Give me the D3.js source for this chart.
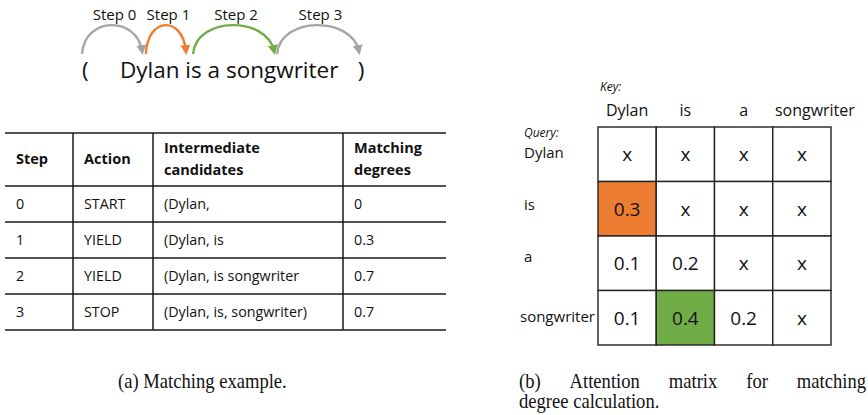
<!DOCTYPE html>
<html lang="en">
<head>
<meta charset="UTF-8">
<title>Matching example and attention matrix</title>
<script src="https://d3js.org/d3.v7.min.js"></script>
<style>
    body { margin: 0; background: #fff; }
    svg { display: block; font-family: "Open Sans", sans-serif; }
    .serif { font-family: "Liberation Serif", "Times New Roman", serif; }
</style>
</head>
<body>
<svg id="fig" width="868" height="415"></svg>
<script>
// ---- data ----
const steps = ["Step 0", "Step 1", "Step 2", "Step 3"];
// arc start / end along the sentence, in token units (0 = "(", 10 = ")")
const arcFrom = [0, 2.29, 3.98, 6.99];
const arcTo = [2.19, 3.76, 6.92, 9.96];
const arcColors = ["#a5a5a5", "#ed7d31", "#70ad47", "#a5a5a5"];
const sentence = "Dylan is a songwriter";

const tableHeader = [["Step"], ["Action"], ["Intermediate", "candidates"], ["Matching", "degrees"]];
const stepIds = ["0", "1", "2", "3"];
const actions = ["START", "YIELD", "YIELD", "STOP"];
const candidates = ["(Dylan,", "(Dylan, is", "(Dylan, is songwriter", "(Dylan, is, songwriter)"];
const degrees = ["0", "0.3", "0.7", "0.7"];

const keys = ["Dylan", "is", "a", "songwriter"];
const queries = ["Dylan", "is", "a", "songwriter"];
const attention = [
    ["x", "x", "x", "x"],
    ["0.3", "x", "x", "x"],
    ["0.1", "0.2", "x", "x"],
    ["0.1", "0.4", "0.2", "x"]
];
// [query index, key index, colour]
const highlights = [[1, 0, "#ed7d31"], [3, 1, "#70ad47"]];

const captionA = "(a) Matching example.";
const captionB = ["(b) Attention matrix for matching", "degree calculation."];

const svg = d3.select("#fig");

// ---- (a) top: steps over the sentence ----
const tx = d3.scaleLinear().domain([0, 10]).range([82, 361]);
const arcBase = 54, arcTop = 16;

const defs = svg.append("defs");
arcColors.forEach((c, i) => {
    defs.append("marker")
        .attr("id", "arrow" + i)
        .attr("viewBox", "0 0 10 10")
        .attr("refX", 6).attr("refY", 5)
        .attr("markerWidth", 10).attr("markerHeight", 10)
        .attr("markerUnits", "userSpaceOnUse")
        .attr("orient", "auto")
        .append("path")
        .attr("d", "M0,0 L10,5 L0,10 z")
        .attr("fill", c);
});

const arcs = svg.append("g");
steps.forEach((s, i) => {
    const x0 = tx(arcFrom[i]), x1 = tx(arcTo[i]);
    const w = x1 - x0;
    arcs.append("path")
        .attr("d", `M${x0},${arcBase} C${x0 + w * 0.04},${arcTop} ${x1 - w * 0.1},${arcTop} ${x1 - 1},${arcBase - 3}`)
        .attr("fill", "none")
        .attr("stroke", arcColors[i])
        .attr("stroke-width", 2.4)
        .attr("marker-end", `url(#arrow${i})`);
    arcs.append("text")
        .attr("x", (x0 + x1) / 2 + 2)
        .attr("y", 20)
        .attr("text-anchor", "middle")
        .attr("font-size", 15)
        .attr("fill", "#111")
        .text(s);
});

const sent = svg.append("g").attr("font-size", 22.5).attr("fill", "#111");
sent.append("text").attr("x", tx(0)).attr("y", 78).text("(");
sent.append("text").attr("x", tx(1.36)).attr("y", 78).text(sentence);
sent.append("text").attr("x", tx(10)).attr("y", 78).attr("text-anchor", "middle").text(")");

// ---- (a) table ----
const colEdges = [5, 73, 153, 343, 446];
const tableTop = 133;
const rowY = d3.scaleBand().domain(stepIds).range([186, 330]);
const lineColor = "#1a1a1a";

const table = svg.append("g");
[tableTop].concat(stepIds.map(d => rowY(d)), [rowY.range()[1]]).forEach(y => {
    table.append("line")
        .attr("x1", colEdges[0]).attr("x2", colEdges[4])
        .attr("y1", y).attr("y2", y)
        .attr("stroke", lineColor).attr("stroke-width", 1.5);
});
colEdges.slice(1, 4).forEach(x => {
    table.append("line")
        .attr("x1", x).attr("x2", x)
        .attr("y1", tableTop).attr("y2", rowY.range()[1])
        .attr("stroke", lineColor).attr("stroke-width", 1.5);
});

tableHeader.forEach((lines, c) => {
    const mid = (tableTop + rowY.range()[0]) / 2;
    lines.forEach((t, k) => {
        table.append("text")
            .attr("x", colEdges[c] + 11)
            .attr("y", mid + 4 + (k - (lines.length - 1) / 2) * 22)
            .attr("font-size", 14.5)
            .attr("font-weight", "bold")
            .attr("fill", "#111")
            .text(t);
    });
});

const cols = [stepIds, actions, candidates, degrees];
cols.forEach((vals, c) => {
    vals.forEach((v, r) => {
        table.append("text")
            .attr("x", colEdges[c] + 11)
            .attr("y", rowY(stepIds[r]) + rowY.bandwidth() / 2 + 5)
            .attr("font-size", 14.3)
            .attr("fill", "#111")
            .text(v);
    });
});

// ---- (b) attention matrix ----
const mx = d3.scaleBand().domain(keys).range([598, 831]);
const my = d3.scaleBand().domain(queries).range([127, 345]);
const mat = svg.append("g");

attention.forEach((row, r) => {
    row.forEach((v, c) => {
        const hl = highlights.find(h => h[0] === r && h[1] === c);
        mat.append("rect")
            .attr("x", mx(keys[c])).attr("y", my(queries[r]))
            .attr("width", mx.bandwidth()).attr("height", my.bandwidth())
            .attr("fill", hl ? hl[2] : "#fff")
            .attr("stroke", "#222").attr("stroke-width", 1.4);
        mat.append("text")
            .attr("x", mx(keys[c]) + mx.bandwidth() / 2)
            .attr("y", my(queries[r]) + my.bandwidth() / 2 + 7)
            .attr("text-anchor", "middle")
            .attr("font-size", 19)
            .attr("fill", "#111")
            .text(v);
    });
});

mat.append("text").attr("x", 600).attr("y", 91)
    .attr("font-size", 12).attr("font-style", "italic").attr("fill", "#111").text("Key:");
keys.forEach(k => {
    mat.append("text")
        .attr("x", mx(k) + mx.bandwidth() / 2 + (k === "songwriter" ? 13 : 0))
        .attr("y", 116)
        .attr("text-anchor", "middle")
        .attr("font-size", 16)
        .attr("fill", "#111")
        .text(k);
});
mat.append("text").attr("x", 524).attr("y", 137)
    .attr("font-size", 12).attr("font-style", "italic").attr("fill", "#111").text("Query:");
const labelNudge = [4, 1, -1, 4];
queries.forEach((q, i) => {
    mat.append("text")
        .attr("x", q === "songwriter" ? 520 : 524)
        .attr("y", my(q) + my.bandwidth() / 2 + labelNudge[i])
        .attr("font-size", 15)
        .attr("fill", "#111")
        .text(q);
});

// ---- captions (Times, slightly condensed) ----
const sx = 0.93;
const cap = svg.append("g").attr("class", "serif").attr("font-size", 20).attr("fill", "#111")
    .attr("transform", `scale(${sx},1)`);
cap.append("text").attr("x", 118 / sx).attr("y", 388).text(captionA);

// justified first line of caption (b)
const bLeft = 519, bRight = 866;
const words = captionB[0].split(" ");
const wEls = words.map(w => cap.append("text").attr("y", 388).text(w));
const total = d3.sum(wEls, e => e.node().getComputedTextLength() * sx);
const gap = (bRight - bLeft - total) / (words.length - 1);
let cx = bLeft;
wEls.forEach(e => {
    e.attr("x", cx / sx);
    cx += e.node().getComputedTextLength() * sx + gap;
});
cap.append("text").attr("x", bLeft / sx).attr("y", 408).text(captionB[1]);
</script>
</body>
</html>
